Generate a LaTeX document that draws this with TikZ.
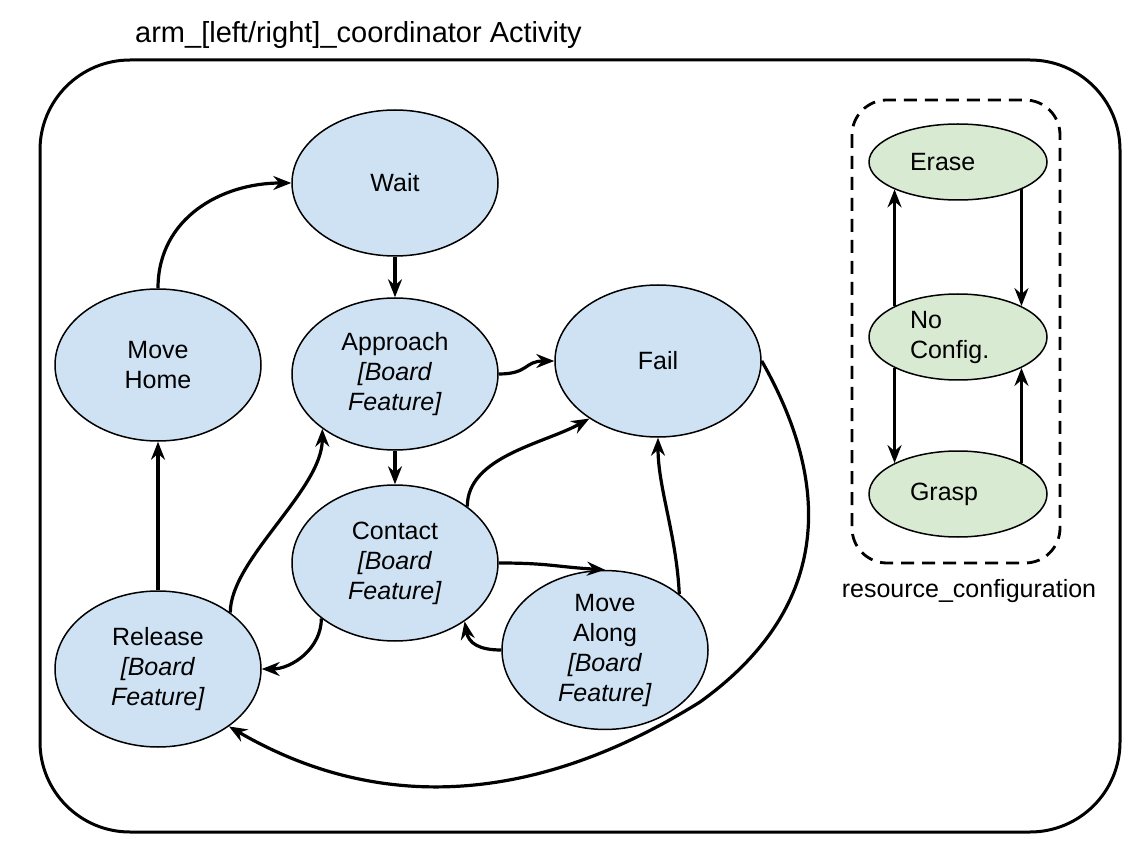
\documentclass[tikz,border=0pt]{standalone}
\usepackage{fontspec}
\setmainfont{Liberation Sans}
\usetikzlibrary{shapes.geometric,arrows.meta}
\definecolor{stateblue}{HTML}{CFE2F3}
\definecolor{stategreen}{HTML}{D9EAD3}
\begin{document}
\begin{tikzpicture}[x=1pt,y=-1pt,
    state/.style={ellipse,draw,line width=1.5pt,fill=stateblue,minimum width=206pt,minimum height=#1,
      align=center,inner sep=0pt,font=\fontsize{25}{30}\selectfont},
    state/.default=152pt,
    config/.style={ellipse,draw,line width=1.5pt,fill=stategreen,minimum width=178pt,minimum height=#1,
      text width=96pt,align=left,inner sep=0pt,font=\fontsize{25}{30}\selectfont},
    trans/.style={line width=3.2pt,-{Stealth[length=18pt,width=14pt,inset=6pt]}}]
  \useasboundingbox (0,0) rectangle (1135,858);
  \node[anchor=base west,inner sep=0pt,font=\fontsize{29}{34}\selectfont] (title) at (135,43) {arm\_[left/right]\_coordinator Activity};
  \draw [line width=3pt,rounded corners=90pt] (40,60) rectangle (1120,832);
  \draw [line width=2.8pt,dash pattern=on 13pt off 8pt,rounded corners=35pt] (852,100) rectangle (1060,563);
  \node[anchor=base,inner sep=0pt,font=\fontsize{25}{30}\selectfont] (reslabel) at (969,597) {resource\_configuration};

  \node[state=146pt] (wait) at (395,183) {Wait};
  \node[state] (home) at (158,365) {Move\\Home};
  \node[state] (appr) at (395,374) {Approach\\\textit{[Board}\\\textit{Feature]}};
  \node[state] (fail) at (658,361) {Fail};
  \node[state=156pt] (cont) at (395,563) {Contact\\\textit{[Board}\\\textit{Feature]}};
  \node[state=156pt] (rel) at (158,669) {Release\\\textit{[Board}\\\textit{Feature]}};
  \node[state=156pt] (along) at (605,650) {Move\\Along\\\textit{[Board}\\\textit{Feature]}};

  \node[config=76pt] (erase) at (958,162) {Erase};
  \node[config=86pt] (noconf) at (958,337) {No\\Config.};
  \node[config=86pt] (grasp) at (958,494) {Grasp};

  \draw [trans] (home.north) .. controls +(0,-70) and +(-70,0) .. (wait.west);
  \draw [trans] (wait) -- (appr);
  \draw [trans] (appr.east) .. controls +(30,0) and +(-30,0) .. (fail.west);
  \draw [trans] (appr) -- (cont);
  \draw [trans] (cont.38) .. controls +(0,-50) and +(-45,25) .. (fail.-140);
  \draw [trans] (cont.east) .. controls +(50,0) and +(-50,-3) .. (along.north);
  \draw [trans] (along.west) .. controls +(-22,0) and +(4,22) .. (cont.-40);
  \draw [trans] (along.37) .. controls +(-3,-60) and +(0,50) .. (fail.south);
  \draw [trans] (fail.east) .. controls (835,490) and (828,610) .. (700,702)
    .. controls (530,808) and (374,811) .. (rel.-39);
  \draw [trans] (cont.-143) .. controls +(0,30) and +(30,0) .. (rel.east);
  \draw [trans] (rel.38) .. controls +(0,-53) and +(0,61) .. (appr.-143);
  \draw [trans] (rel) -- (home);

  \draw [trans] (noconf.north west) -- (erase.south west);
  \draw [trans] (erase.south east) -- (noconf.north east);
  \draw [trans] (noconf.south west) -- (grasp.north west);
  \draw [trans] (grasp.north east) -- (noconf.south east);
\end{tikzpicture}
\end{document}
